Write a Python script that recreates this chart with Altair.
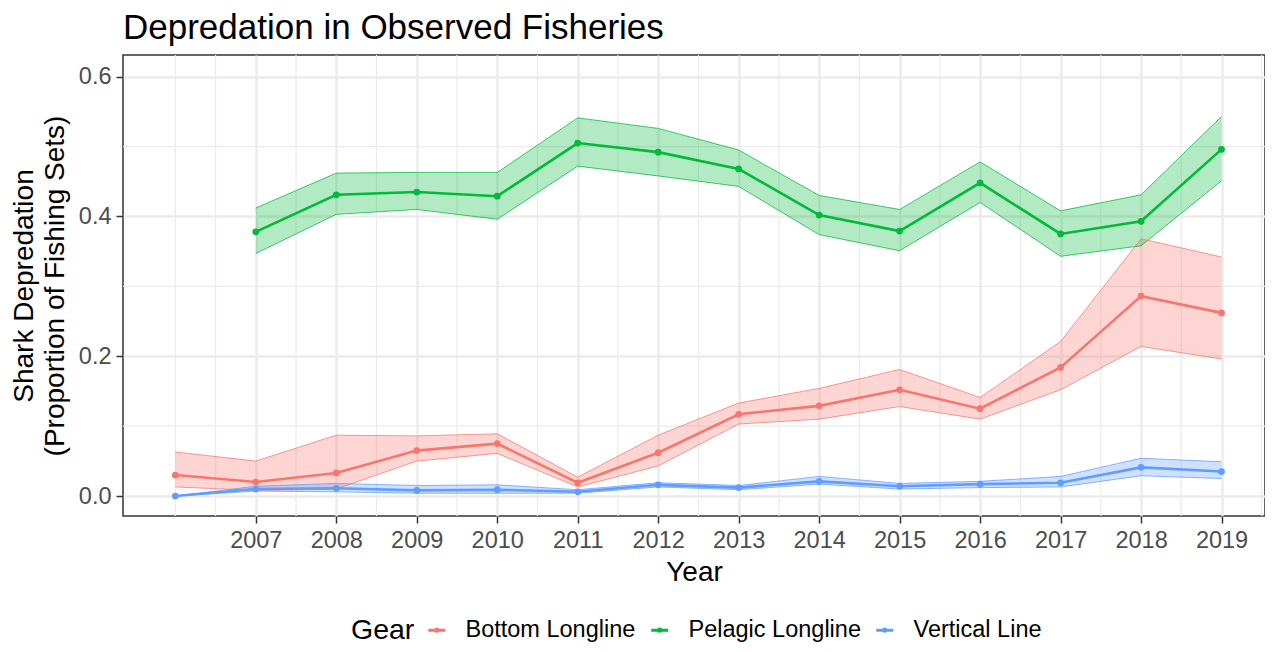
import altair as alt
import pandas as pd

# ---- data ----
gears = ["Bottom Longline", "Pelagic Longline", "Vertical Line"]
gear_colors = ["#F8766D", "#00BA38", "#619CFF"]

bottom_years = [2006, 2007, 2008, 2009, 2010, 2011, 2012, 2013, 2014, 2015, 2016, 2017, 2018, 2019]
bottom_mean = [0.030, 0.020, 0.033, 0.065, 0.075, 0.019, 0.062, 0.117, 0.129, 0.152, 0.125, 0.184, 0.286, 0.262]
bottom_lo = [0.013, 0.008, 0.010, 0.050, 0.061, 0.013, 0.043, 0.103, 0.110, 0.128, 0.110, 0.152, 0.214, 0.196]
bottom_hi = [0.063, 0.050, 0.087, 0.086, 0.089, 0.027, 0.087, 0.133, 0.154, 0.181, 0.141, 0.221, 0.368, 0.342]

pelagic_years = [2007, 2008, 2009, 2010, 2011, 2012, 2013, 2014, 2015, 2016, 2017, 2018, 2019]
pelagic_mean = [0.378, 0.431, 0.435, 0.429, 0.505, 0.492, 0.468, 0.402, 0.379, 0.448, 0.375, 0.393, 0.496]
pelagic_lo = [0.347, 0.403, 0.410, 0.396, 0.472, 0.458, 0.443, 0.374, 0.351, 0.420, 0.343, 0.358, 0.451]
pelagic_hi = [0.412, 0.462, 0.463, 0.463, 0.541, 0.526, 0.495, 0.430, 0.410, 0.478, 0.408, 0.431, 0.543]

vertical_years = [2006, 2007, 2008, 2009, 2010, 2011, 2012, 2013, 2014, 2015, 2016, 2017, 2018, 2019]
vertical_mean = [0.000, 0.010, 0.011, 0.008, 0.009, 0.006, 0.016, 0.012, 0.021, 0.014, 0.017, 0.019, 0.041, 0.035]
vertical_lo = [0.000, 0.007, 0.006, 0.004, 0.004, 0.004, 0.013, 0.009, 0.017, 0.010, 0.012, 0.013, 0.029, 0.025]
vertical_hi = [0.000, 0.014, 0.018, 0.015, 0.016, 0.009, 0.019, 0.015, 0.028, 0.018, 0.021, 0.028, 0.054, 0.049]

x_ticks = [2007, 2008, 2009, 2010, 2011, 2012, 2013, 2014, 2015, 2016, 2017, 2018, 2019]
x_minor = [2006, 2006.5, 2007.5, 2008.5, 2009.5, 2010.5, 2011.5, 2012.5, 2013.5,
           2014.5, 2015.5, 2016.5, 2017.5, 2018.5, 2019.5]
y_ticks = [0.0, 0.2, 0.4, 0.6]
y_minor = [0.1, 0.3, 0.5]

# ---- build table ----
rows = []
for g, ys, m, lo, hi in [
    (gears[0], bottom_years, bottom_mean, bottom_lo, bottom_hi),
    (gears[1], pelagic_years, pelagic_mean, pelagic_lo, pelagic_hi),
    (gears[2], vertical_years, vertical_mean, vertical_lo, vertical_hi),
]:
    for i in range(len(ys)):
        rows.append({"Year": ys[i], "Gear": g, "Mean": m[i], "Lo": lo[i], "Hi": hi[i]})
df = pd.DataFrame(rows)

FONT = "Liberation Sans"
W, H = 1142, 461
TICK_FS = 23.5
TITLE_FS = 28

xscale = alt.Scale(domain=[2005.35, 2019.54], nice=False, zero=False)
yscale = alt.Scale(domain=[-0.0286, 0.631], nice=False, zero=False)

x_axis = alt.Axis(values=x_ticks, format="d", title="Year", labelFontSize=TICK_FS, titleFontSize=TITLE_FS,
                  labelColor="#4D4D4D", titleColor="black", titleFontWeight="normal",
                  tickColor="#333333", tickSize=7, tickWidth=1.5, domain=False,
                  grid=True, gridColor="#EBEBEB", gridWidth=2.4,
                  labelPadding=5, titlePadding=7, labelFont=FONT, titleFont=FONT)
y_axis = alt.Axis(values=y_ticks, format=".1f",
                  title=["Shark Depredation", "(Proportion of Fishing Sets)"],
                  labelFontSize=TICK_FS, titleFontSize=TITLE_FS, titleLineHeight=31,
                  labelColor="#4D4D4D", titleColor="black", titleFontWeight="normal",
                  tickColor="#333333", tickSize=7, tickWidth=1.5, domain=False,
                  grid=True, gridColor="#EBEBEB", gridWidth=2.4,
                  labelPadding=5, titlePadding=9, labelFont=FONT, titleFont=FONT)

X = alt.X("Year:Q", scale=xscale, axis=x_axis)

color_scale = alt.Scale(domain=gears, range=gear_colors)
legend = alt.Legend(
    title="Gear", orient="none", legendX=228, legendY=563, direction="horizontal",
    titleOrient="left", titleFontSize=28.5, titleFontWeight="normal", titleColor="black",
    titleFont=FONT, titlePadding=10, titleBaseline="middle",
    labelFontSize=TICK_FS, labelColor="black", labelFont=FONT, labelOffset=17, labelLimit=400,
    columnPadding=9,
    symbolType="M-1,0L1,0M-0.12,0A0.12,0.12 0 1,0 0.12,0A0.12,0.12 0 1,0 -0.12,0",
    symbolSize=289, symbolStrokeWidth=3,
)

base = alt.Chart(df)

minor_x_rules = alt.Chart(pd.DataFrame({"Year": x_minor})).mark_rule(
    color="#EBEBEB", strokeWidth=1.2
).encode(x=X)

minor_y_rules = alt.Chart(pd.DataFrame({"Mean": y_minor})).mark_rule(
    color="#EBEBEB", strokeWidth=1.2
).encode(y=alt.Y("Mean:Q", scale=yscale, axis=y_axis))

ribbon = base.mark_area(fillOpacity=0.3).encode(
    x=X,
    y=alt.Y("Lo:Q", scale=yscale, axis=y_axis),
    y2="Hi:Q",
    color=alt.Color("Gear:N", scale=color_scale, legend=legend),
)

edge_lo = base.mark_line(strokeWidth=1, strokeOpacity=0.75).encode(
    x=X, y=alt.Y("Lo:Q", scale=yscale, axis=y_axis),
    color=alt.Color("Gear:N", scale=color_scale, legend=legend),
)
edge_hi = base.mark_line(strokeWidth=1, strokeOpacity=0.75).encode(
    x=X, y=alt.Y("Hi:Q", scale=yscale, axis=y_axis),
    color=alt.Color("Gear:N", scale=color_scale, legend=legend),
)

lines = base.mark_line(strokeWidth=2.6).encode(
    x=X, y=alt.Y("Mean:Q", scale=yscale, axis=y_axis),
    color=alt.Color("Gear:N", scale=color_scale, legend=legend),
)
points = base.mark_circle(size=45, opacity=1).encode(
    x=X, y=alt.Y("Mean:Q", scale=yscale, axis=y_axis),
    color=alt.Color("Gear:N", scale=color_scale, legend=legend),
)

chart = alt.layer(
    minor_x_rules, minor_y_rules, ribbon, edge_lo, edge_hi, lines, points
).properties(
    width=W, height=H,
    title=alt.TitleParams("Depredation in Observed Fisheries", anchor="start", frame="group",
                          fontSize=35, font=FONT, fontWeight="normal", color="black", offset=8),
    autosize=alt.AutoSizeParams(type="none"),
    padding={"left": 115, "top": 47, "right": 0, "bottom": 128},
).configure(font=FONT).configure_view(stroke="#333333", strokeWidth=1.5)

chart.save("out.html", embed_options={"renderer": "svg", "actions": False})
